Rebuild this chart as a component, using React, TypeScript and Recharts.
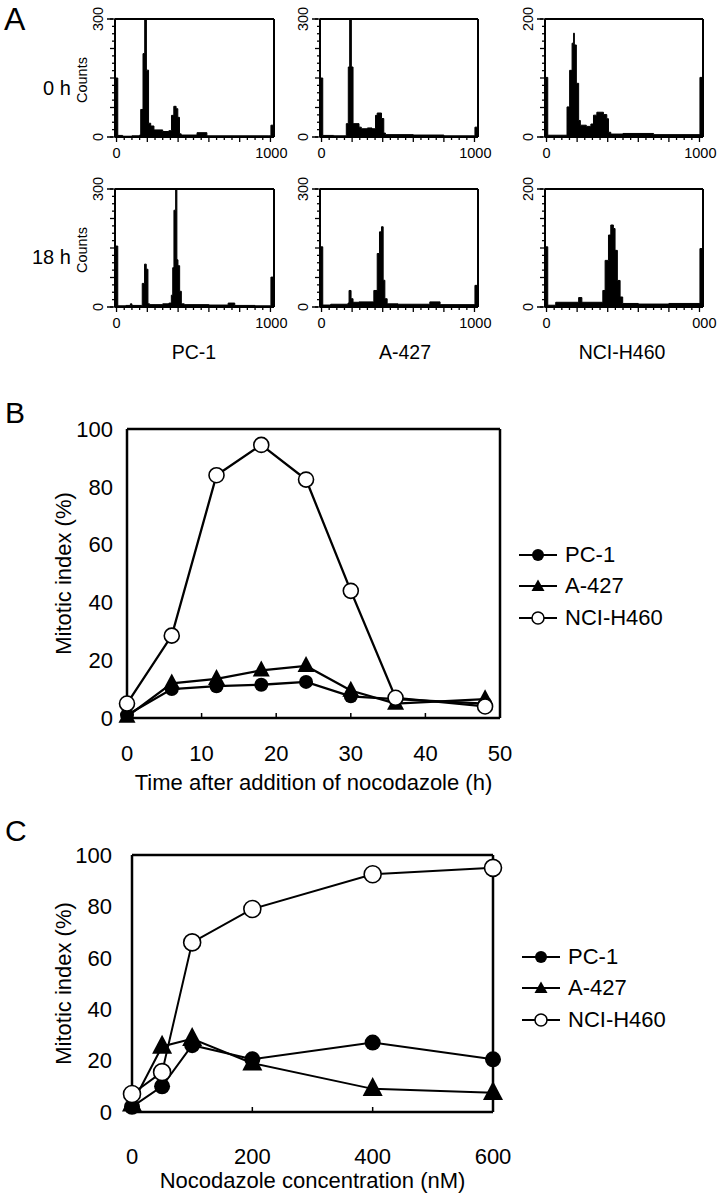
import React from 'react';
import { AreaChart, Area, LineChart, Line, XAxis, YAxis, Legend } from 'recharts';

const FONT = '"Liberation Sans", Arial, Helvetica, sans-serif';

// ---------- Panel A: DNA content histograms, [channel, counts] ----------
const pc1Hist0h = [[-10,150],[8,4],[40,2],[100,3],[150,5],[157,70],[172,212],[183,300],[194,170],[208,35],[222,28],[243,18],[300,14],[340,16],[357,55],[372,78],[387,72],[398,50],[409,8],[420,5],[523,11],[587,3],[990,3],[1003,30],[1023,30]];
const a427Hist0h = [[-10,150],[8,4],[80,3],[162,34],[175,178],[184,300],[195,178],[206,34],[245,25],[260,21],[300,23],[330,21],[353,55],[364,61],[392,47],[407,10],[418,6],[600,5],[800,3],[1003,25],[1023,25]];
const nciHist0h = [[-10,101],[8,3],[134,51],[151,113],[167,159],[177,176],[182,156],[195,91],[210,28],[221,20],[260,18],[290,22],[307,37],[329,42],[372,38],[394,31],[405,8],[420,5],[500,6],[700,4],[1003,101],[1023,101]];
const pc1Hist18h = [[-10,155],[8,3],[60,4],[90,8],[100,4],[160,4],[167,60],[182,109],[193,96],[204,8],[215,6],[250,6],[300,8],[340,10],[356,30],[365,100],[373,246],[384,300],[392,120],[399,105],[410,40],[421,8],[440,6],[600,5],[725,10],[768,4],[900,3],[1003,76],[1023,76]];
const a427Hist18h = [[-10,153],[8,5],[60,7],[173,10],[180,42],[193,21],[206,12],[245,13],[342,42],[364,136],[379,191],[392,204],[403,68],[414,21],[429,8],[500,7],[708,13],[775,6],[1003,55],[1023,55]];
const nciHist18h = [[-10,102],[8,3],[60,8],[210,16],[231,8],[368,28],[383,79],[405,122],[420,139],[437,133],[448,96],[463,45],[481,17],[498,6],[600,5],[800,6],[1003,99],[1023,99]];

const histXTicks = [0,50,100,150,200,250,300,350,400,450,500,550,600,650,700,750,800,850,900,950,1000];

// ---------- Panel B: time course ----------
const hours = [0, 6, 12, 18, 24, 30, 36, 48];
const pc1Time = [1, 10, 11, 11.5, 12.5, 7.5, 6.5, 5];
const a427Time = [0.5, 12, 13.5, 16.5, 18, 9.5, 5, 6.5];
const nciTime = [5, 28.5, 84, 94.5, 82.5, 44, 7, 4];
const timeTicks = [0, 10, 20, 30, 40, 50];

// ---------- Panel C: dose response ----------
const conc = [0, 50, 100, 200, 400, 600];
const pc1Dose = [2, 10, 26, 20.5, 27, 20.5];
const a427Dose = [3, 25.5, 28.5, 19, 9, 7.5];
const nciDose = [7, 15.5, 66, 79, 92.5, 95];
const concTicks = [0, 200, 400, 600];

const pctTicks = [0, 20, 40, 60, 80, 100];
const legendOrder = ['pc1', 'a427', 'nci'];

const timeData = hours.map((h, i) => ({ x: h, pc1: pc1Time[i], a427: a427Time[i], nci: nciTime[i] }));
const doseData = conc.map((c, i) => ({ x: c, pc1: pc1Dose[i], a427: a427Dose[i], nci: nciDose[i] }));

// ---------- Histogram ----------
type HistProps = { data: number[][]; yMax: number; left: number; top: number; w: number; endLabel: string };

function Histogram({ data, yMax, left, top, w, endLabel }: HistProps) {
  const rows = data.map(([ch, n]) => ({ ch, n }));
  const yTicks = Array.from({ length: 17 }, (_, i) => (yMax * i) / 16);
  const h = 118;
  const axis = { stroke: '#000', strokeWidth: 2 };
  const yTick = (p: any) => {
    const i = p.index;
    const labelled = i === 0 || i === 16;
    const len = i % 4 === 0 ? 5 : 3;
    return (
      <g>
        <line x1={p.x} x2={p.x - len} y1={p.y} y2={p.y} stroke="#000" strokeWidth={1.3} />
        {labelled && (
          <g>
            <line x1={p.x - 2} x2={p.x - 8} y1={p.y} y2={p.y} stroke="#000" strokeWidth={1.5} />
            <text x={p.x - 17} y={p.y} transform={`rotate(-90 ${p.x - 17} ${p.y})`} textAnchor="middle"
              dominantBaseline="central" fontSize={14.5} fontFamily={FONT} fill="#000">
              {i === 0 ? '0' : String(yMax)}
            </text>
          </g>
        )}
      </g>
    );
  };
  const xTick = (p: any) => {
    const v = p.payload.value;
    const len = v % 200 === 0 ? 5 : 3;
    return (
      <g>
        <line x1={p.x} x2={p.x} y1={p.y} y2={p.y + len} stroke="#000" strokeWidth={1.3} />
        {v === 0 && (
          <text x={p.x} y={p.y + 16} textAnchor="middle" dominantBaseline="central" fontSize={14.5} fontFamily={FONT} fill="#000">0</text>
        )}
        {v === 1000 && (
          <text x={p.x + 17} y={p.y + 16} textAnchor="end" dominantBaseline="central" fontSize={14.5} fontFamily={FONT} fill="#000">{endLabel}</text>
        )}
      </g>
    );
  };
  return (
    <div style={{ position: 'absolute', left: left - 45, top: top - 15 }}>
      <AreaChart width={w + 65} height={h + 45} data={rows} margin={{ top: 14, right: 19, bottom: 0, left: 0 }}>
        <XAxis dataKey="ch" type="number" domain={[-10, 1023]} ticks={histXTicks} interval={0} tickSize={0} tickMargin={0}
          tick={xTick} tickLine={false} height={30} axisLine={axis} allowDataOverflow />
        <XAxis xAxisId="top" orientation="top" dataKey="ch" type="number" domain={[-10, 1023]} height={1} tick={false} tickLine={false} axisLine={axis} />
        <YAxis type="number" domain={[0, yMax]} ticks={yTicks} interval={0} width={45} tickSize={0} tickMargin={0}
          tick={yTick} tickLine={false} axisLine={axis} allowDataOverflow />
        <YAxis yAxisId="right" orientation="right" type="number" domain={[0, yMax]} width={1} tick={false} tickLine={false} axisLine={axis} />
        <Area type="stepAfter" dataKey="n" stroke="#000" strokeWidth={1} fill="#000" fillOpacity={1}
          isAnimationActive={false} dot={false} activeDot={false} />
      </AreaChart>
    </div>
  );
}

// ---------- Markers ----------
const makeFilled = (r: number) => (p: any) => <circle key={`f${p.index}`} cx={p.cx} cy={p.cy} r={r} fill="#000" />;
const makeOpen = (r: number) => (p: any) => <circle key={`o${p.index}`} cx={p.cx} cy={p.cy} r={r} fill="#fff" stroke="#000" strokeWidth={1.6} />;
const makeTri = (hw: number, hh: number) => (p: any) => (
  <polygon key={`t${p.index}`} points={`${p.cx},${p.cy - hh * 0.62} ${p.cx - hw},${p.cy + hh * 0.38} ${p.cx + hw},${p.cy + hh * 0.38}`} fill="#000" />
);

const legendIcon = (key: string) => {
  if (key === 'pc1') return <circle cx={19} cy={10} r={6} fill="#000" />;
  if (key === 'a427') return <polygon points="19,3.5 12.5,15 25.5,15" fill="#000" />;
  return <circle cx={19} cy={10} r={6} fill="#fff" stroke="#000" strokeWidth={1.5} />;
};

const LegendBox = (props: any) => {
  const items = legendOrder
    .map((k) => (props.payload || []).find((e: any) => e.dataKey === k))
    .filter(Boolean);
  return (
    <div style={{ fontFamily: FONT, fontSize: 22, color: '#000' }}>
      {items.map((e: any) => (
        <div key={e.dataKey} style={{ display: 'flex', alignItems: 'center', height: 31.5 }}>
          <svg width={38} height={20} style={{ display: 'block' }}>
            <line x1={0} x2={38} y1={10} y2={10} stroke="#000" strokeWidth={2} />
            {legendIcon(e.dataKey)}
          </svg>
          <span style={{ marginLeft: 8, lineHeight: '22px' }}>{e.value}</span>
        </div>
      ))}
    </div>
  );
};

const tickFont = { fontSize: 22, fill: '#000', fontFamily: FONT };
const boxAxis = { stroke: '#000', strokeWidth: 2.5 };

function TimeChart() {
  return (
    <div style={{ position: 'absolute', left: 0, top: 380 }}>
      <LineChart width={720} height={420} data={timeData} margin={{ top: 48, right: 219, bottom: 2, left: 0 }}>
        <XAxis dataKey="x" type="number" domain={[0, 50]} ticks={timeTicks} interval={0} height={80}
          tickSize={-5} tickMargin={32} tick={tickFont} tickLine={{ stroke: '#000', strokeWidth: 1.5 }} axisLine={boxAxis}
          label={{ value: 'Time after addition of nocodazole (h)', position: 'insideBottom', offset: 8, fontSize: 22, fill: '#000', fontFamily: FONT }} />
        <XAxis xAxisId="top" orientation="top" dataKey="x" type="number" domain={[0, 50]} height={1} tick={false} tickLine={false} axisLine={boxAxis} />
        <YAxis type="number" domain={[0, 100]} ticks={pctTicks} interval={0} width={127} tickLine={false} tickSize={6} tickMargin={8}
          tick={tickFont} axisLine={boxAxis}
          label={{ value: 'Mitotic index (%)', angle: -90, position: 'center', fontSize: 22, fill: '#000', fontFamily: FONT }} />
        <YAxis yAxisId="r" orientation="right" type="number" domain={[0, 100]} width={1} tick={false} tickLine={false} axisLine={boxAxis} />
        <Legend layout="horizontal" align="center" verticalAlign="middle" content={LegendBox}
          wrapperStyle={{ left: 519, top: 159, width: 200, height: 'auto' }} />
        <Line dataKey="pc1" name="PC-1" stroke="#000" strokeWidth={2.3} dot={makeFilled(7)} activeDot={false} isAnimationActive={false} />
        <Line dataKey="a427" name="A-427" stroke="#000" strokeWidth={2.3} dot={makeTri(8.5, 16)} activeDot={false} isAnimationActive={false} />
        <Line dataKey="nci" name="NCI-H460" stroke="#000" strokeWidth={2.3} dot={makeOpen(7.5)} activeDot={false} isAnimationActive={false} />
      </LineChart>
    </div>
  );
}

function DoseChart() {
  return (
    <div style={{ position: 'absolute', left: 0, top: 800 }}>
      <LineChart width={720} height={399} data={doseData} margin={{ top: 54, right: 226, bottom: 2, left: -6 }}>
        <XAxis dataKey="x" type="number" domain={[0, 600]} ticks={concTicks} interval={0} height={85}
          tickSize={-5} tickMargin={41} tick={tickFont} tickLine={{ stroke: '#000', strokeWidth: 1.5 }} axisLine={boxAxis}
          label={{ value: 'Nocodazole concentration (nM)', position: 'insideBottom', offset: 9, fontSize: 22, fill: '#000', fontFamily: FONT }} />
        <XAxis xAxisId="top" orientation="top" dataKey="x" type="number" domain={[0, 600]} height={1} tick={false} tickLine={false} axisLine={boxAxis} />
        <YAxis type="number" domain={[0, 100]} ticks={pctTicks} interval={0} width={138} tickLine={false} tickSize={6} tickMargin={14}
          tick={tickFont} axisLine={boxAxis}
          label={{ value: 'Mitotic index (%)', angle: -90, position: 'center', fontSize: 22, fill: '#000', fontFamily: FONT }} />
        <YAxis yAxisId="r" orientation="right" type="number" domain={[0, 100]} width={1} tick={false} tickLine={false} axisLine={boxAxis} />
        <Legend layout="horizontal" align="center" verticalAlign="middle" content={LegendBox}
          wrapperStyle={{ left: 522, top: 141, width: 200, height: 'auto' }} />
        <Line dataKey="pc1" name="PC-1" stroke="#000" strokeWidth={2} dot={makeFilled(8)} activeDot={false} isAnimationActive={false} />
        <Line dataKey="a427" name="A-427" stroke="#000" strokeWidth={2} dot={makeTri(10, 19)} activeDot={false} isAnimationActive={false} />
        <Line dataKey="nci" name="NCI-H460" stroke="#000" strokeWidth={2} dot={makeOpen(8.5)} activeDot={false} isAnimationActive={false} />
      </LineChart>
    </div>
  );
}

const histCols = [115, 320, 545];
const histWidths = [159, 158, 158];
const histRows = [19, 189];

export default function App() {
  return (
    <div style={{ position: 'absolute', left: 0, top: 0, width: 720, height: 1199, background: '#fff', overflow: 'hidden' }}>
      <svg width={720} height={1199} style={{ position: 'absolute', left: 0, top: 0 }}>
        <g fontFamily={FONT} fill="#000">
          <text x={4} y={30} fontSize={32}>A</text>
          <text x={5} y={423} fontSize={30}>B</text>
          <text x={5} y={841} fontSize={30}>C</text>
          <text x={43} y={95} fontSize={20}>0 h</text>
          <text x={32} y={264} fontSize={20}>18 h</text>
          <text x={81.5} y={80} transform="rotate(-90 81.5 80)" textAnchor="middle" dominantBaseline="central" fontSize={14.5}>Counts</text>
          <text x={81.5} y={250} transform="rotate(-90 81.5 250)" textAnchor="middle" dominantBaseline="central" fontSize={14.5}>Counts</text>
          <text x={194} y={359} textAnchor="middle" fontSize={19.5}>PC-1</text>
          <text x={405} y={359} textAnchor="middle" fontSize={19.5}>A-427</text>
          <text x={622} y={359} textAnchor="middle" fontSize={19.5}>NCI-H460</text>
        </g>
      </svg>
      <Histogram data={pc1Hist0h} yMax={300} left={histCols[0]} top={histRows[0]} w={histWidths[0]} endLabel="1000" />
      <Histogram data={a427Hist0h} yMax={300} left={histCols[1]} top={histRows[0]} w={histWidths[1]} endLabel="1000" />
      <Histogram data={nciHist0h} yMax={200} left={histCols[2]} top={histRows[0]} w={histWidths[2]} endLabel="1000" />
      <Histogram data={pc1Hist18h} yMax={300} left={histCols[0]} top={histRows[1]} w={histWidths[0]} endLabel="1000" />
      <Histogram data={a427Hist18h} yMax={300} left={histCols[1]} top={histRows[1]} w={histWidths[1]} endLabel="1000" />
      <Histogram data={nciHist18h} yMax={200} left={histCols[2]} top={histRows[1]} w={histWidths[2]} endLabel="000" />
      <TimeChart />
      <DoseChart />
    </div>
  );
}
